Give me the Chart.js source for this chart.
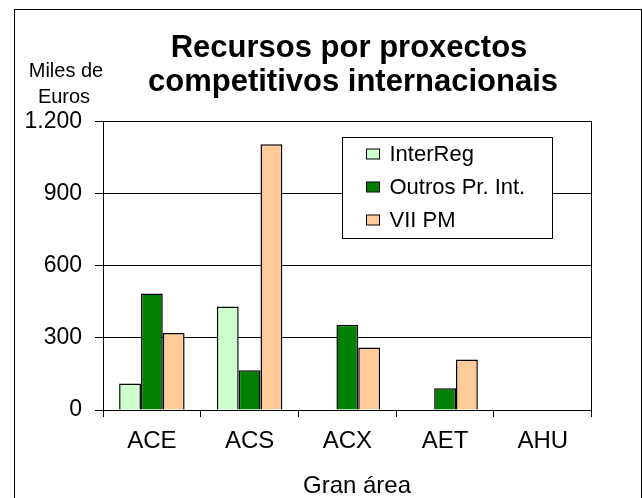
<!DOCTYPE html>
<html>
<head>
<meta charset="utf-8">
<script src="https://cdn.jsdelivr.net/npm/chart.js@4/dist/chart.umd.min.js"></script>
<style>
  html, body { margin: 0; padding: 0; background: #fff; }
  #wrap { position: relative; width: 642px; height: 498px; overflow: hidden; }
  #marco { position: absolute; left: 14px; top: 9px; width: 626px; height: 600px; border: 1px solid #000; }
  #caixa { position: absolute; left: 0; top: 0; width: 642px; height: 498px; }
</style>
</head>
<body>
<div id="wrap">
  <div id="marco"></div>
  <div id="caixa"><canvas id="grafico"></canvas></div>
</div>
<script>
// Datos (miles de euros)
const areas = ['ACE', 'ACS', 'ACX', 'AET', 'AHU'];
const interReg = [110, 430, 0, 0, 0];
const outros = [485, 165, 355, 90, 0];
const viiPM = [320, 1105, 260, 210, 0];
const ticksY = [0, 300, 600, 900, 1200];

const titulo = ['Recursos por proxectos', 'competitivos internacionais'];
const tituloX = 'Gran área';
const tituloY = ['Miles de', 'Euros'];

const fonte = '"Liberation Sans", Arial, sans-serif';

// 1200 -> "1.200"
const formato = v => String(v).replace(/\B(?=(\d{3})+(?!\d))/g, '.');

// Títulos, lenda dentro do área
const extras = {
  id: 'extras',
  afterDatasetsDraw(chart) {
    const { ctx, chartArea: ca } = chart;
    ctx.save();

    // lenda
    const bx = Math.round(ca.left + 239) + 0.5;
    const by = Math.round(ca.top + 15) + 0.5;
    ctx.fillStyle = '#fff';
    ctx.fillRect(bx, by, 210, 101);
    ctx.strokeStyle = '#000';
    ctx.lineWidth = 1;
    ctx.strokeRect(bx, by, 210, 101);

    ctx.font = '22px ' + fonte;
    ctx.textBaseline = 'middle';
    ctx.textAlign = 'left';
    chart.data.datasets.forEach((ds, i) => {
      const y = Math.round(by + 16 + i * 33);
      ctx.fillStyle = ds.backgroundColor;
      ctx.fillRect(bx + 24, y - 5, 13, 10);
      ctx.strokeRect(bx + 24, y - 5, 13, 10);
      ctx.fillStyle = '#000';
      ctx.fillText(ds.label, bx + 47, y + 1);
    });

    // títulos
    ctx.textBaseline = 'alphabetic';
    ctx.textAlign = 'center';
    ctx.fillStyle = '#000';
    ctx.font = 'bold 31px ' + fonte;
    ctx.fillText(titulo[0], 349, 57);
    ctx.fillText(titulo[1], 353, 91);

    ctx.font = '20px ' + fonte;
    ctx.fillText(tituloY[0], 66, 77);
    ctx.fillText(tituloY[1], 64, 103);

    ctx.font = '24px ' + fonte;
    ctx.fillText(tituloX, 357, 493);
    ctx.restore();
  }
};

new Chart(document.getElementById('grafico'), {
  type: 'bar',
  data: {
    labels: areas,
    datasets: [
      { label: 'InterReg', data: interReg, backgroundColor: '#CCFFCC' },
      { label: 'Outros Pr. Int.', data: outros, backgroundColor: '#008000' },
      { label: 'VII PM', data: viiPM, backgroundColor: '#FFCC99' }
    ]
  },
  options: {
    responsive: true,
    maintainAspectRatio: false,
    animation: false,
    devicePixelRatio: 1,
    layout: { padding: { left: 0, right: 0, top: 121.5, bottom: 0 } },
    datasets: {
      bar: {
        borderColor: '#000',
        borderWidth: 1.5,
        barPercentage: 1,
        categoryPercentage: 0.67
      }
    },
    plugins: {
      legend: { display: false },
      tooltip: { enabled: false },
      title: { display: false }
    },
    scales: {
      x: {
        grid: { drawOnChartArea: false, drawTicks: true, tickLength: 7, color: '#000', offset: true },
        border: { color: '#000' },
        ticks: { color: '#000', font: { family: fonte, size: 24 }, padding: 10 },
        afterFit: s => { s.height = 88; }
      },
      y: {
        min: 0,
        max: 1200,
        afterBuildTicks: s => { s.ticks = ticksY.map(v => ({ value: v })); },
        grid: { color: '#000', tickLength: 8 },
        border: { color: '#000' },
        ticks: { color: '#000', font: { family: fonte, size: 23 }, padding: 13, callback: formato },
        afterFit: s => { s.width = 103; }
      },
      y2: {
        position: 'right',
        min: 0,
        max: 1200,
        grid: { drawOnChartArea: false, drawTicks: false },
        border: { color: '#000' },
        ticks: { display: false },
        afterFit: s => { s.width = 50.3; }
      }
    }
  },
  plugins: [extras]
});
</script>
</body>
</html>
